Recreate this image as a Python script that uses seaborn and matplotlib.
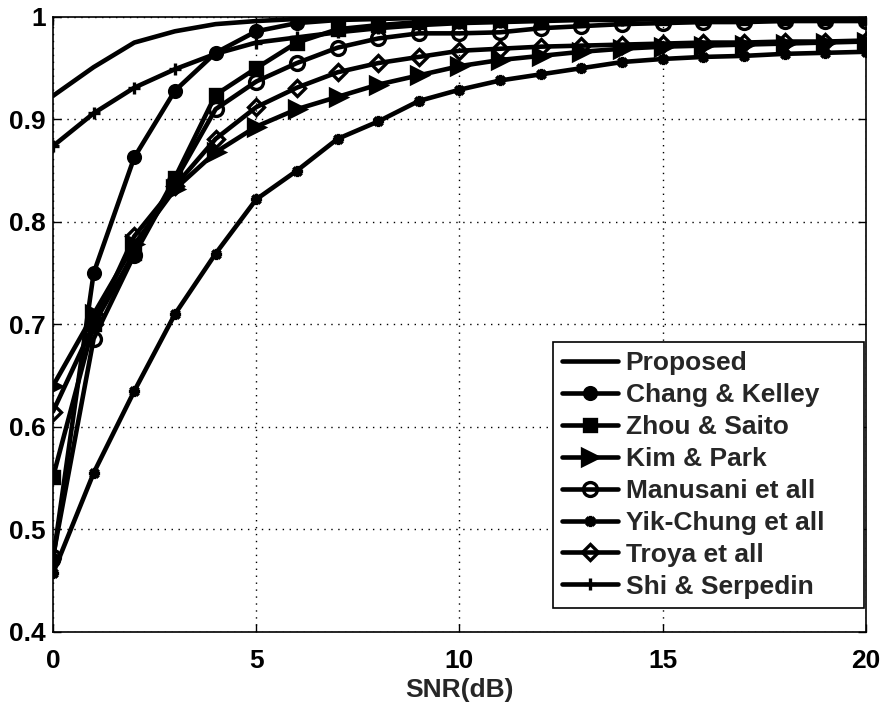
import numpy as np
import pandas as pd
import matplotlib
matplotlib.use("Agg")
import matplotlib.pyplot as plt
import seaborn as sns

snr = list(range(0, 21))

proposed = [0.923, 0.951, 0.975, 0.986, 0.993, 0.996, 0.998, 0.999, 0.999, 1.0, 1.0,
            1.0, 1.0, 1.0, 1.0, 1.0, 1.0, 1.0, 1.0, 1.0, 1.0]
chang = [0.470, 0.750, 0.863, 0.928, 0.965, 0.986, 0.994, 0.997, 0.998, 0.999, 0.999,
         0.999, 1.0, 1.0, 1.0, 1.0, 1.0, 1.0, 1.0, 1.0, 1.0]
zhou = [0.551, 0.700, 0.770, 0.843, 0.924, 0.950, 0.975, 0.988, 0.992, 0.995, 0.996,
        0.997, 0.998, 0.998, 0.999, 0.999, 0.999, 0.999, 0.999, 0.999, 0.999]
kim = [0.640, 0.710, 0.778, 0.832, 0.868, 0.893, 0.910, 0.922, 0.934, 0.943, 0.952,
       0.958, 0.962, 0.966, 0.969, 0.971, 0.972, 0.973, 0.974, 0.975, 0.976]
manusani = [0.473, 0.686, 0.768, 0.840, 0.910, 0.937, 0.955, 0.970, 0.979, 0.984, 0.984,
            0.985, 0.989, 0.991, 0.993, 0.994, 0.995, 0.995, 0.996, 0.996, 0.996]
yik = [0.457, 0.555, 0.635, 0.710, 0.769, 0.822, 0.850, 0.881, 0.898, 0.918, 0.929,
       0.938, 0.944, 0.950, 0.956, 0.959, 0.961, 0.962, 0.964, 0.965, 0.966]
troya = [0.615, 0.700, 0.786, 0.835, 0.881, 0.912, 0.931, 0.946, 0.955, 0.961, 0.967,
         0.969, 0.971, 0.972, 0.973, 0.974, 0.975, 0.975, 0.976, 0.976, 0.977]
shi = [0.874, 0.906, 0.931, 0.949, 0.964, 0.975, 0.980, 0.985, 0.989, 0.992, 0.994,
       0.995, 0.996, 0.997, 0.997, 0.998, 0.998, 0.998, 0.999, 0.999, 0.999]

labels = ["Proposed", "Chang & Kelley", "Zhou & Saito", "Kim & Park",
          "Manusani et all", "Yik-Chung et all", "Troya et all", "Shi & Serpedin"]
series = [proposed, chang, zhou, kim, manusani, yik, troya, shi]

# marker style per method: (marker, size, face colour)
styles = [
    (None, 0, "k"),
    ("o", 8.5, "k"),
    ("s", 8.5, "k"),
    (">", 11.5, "k"),
    ("o", 10, "none"),
    ((8, 2, 0), 8, "k"),
    ("D", 8.5, "none"),
    ("+", 9, "k"),
]

sns.set_style("ticks")
plt.rcParams["font.family"] = ["Liberation Sans", "DejaVu Sans"]
plt.rcParams["font.weight"] = "bold"
plt.rcParams["font.size"] = 19

fig = plt.figure(figsize=(8.86, 7.06), dpi=100)
ax = fig.add_axes([0.0598, 0.105, 0.9176, 0.871])

for name, vals, (mk, ms, fc) in zip(labels, series, styles):
    df = pd.DataFrame({"SNR": snr, "val": vals})
    kw = dict(color="k", linewidth=3.3, label=name)
    if mk is not None:
        kw.update(marker=mk, markersize=ms, markerfacecolor=fc,
                  markeredgecolor="k", markeredgewidth=2.4)
    sns.lineplot(data=df, x="SNR", y="val", ax=ax, **kw)

ax.set_xlim(0, 20)
ax.set_ylim(0.4, 1.0)
ax.set_xticks([0, 5, 10, 15, 20])
ax.set_yticks([0.4, 0.5, 0.6, 0.7, 0.8, 0.9, 1.0])
ax.set_yticklabels(["0.4", "0.5", "0.6", "0.7", "0.8", "0.9", "1"])
ax.set_xlabel("SNR(dB)", fontsize=19, fontweight="bold", labelpad=4)
ax.set_ylabel("")
ax.tick_params(direction="in", length=6, width=1, top=True, right=True,
               labelsize=19, colors="k")
ax.tick_params(axis="x", pad=12)
ax.tick_params(axis="y", pad=5)
for lab in ax.get_xticklabels() + ax.get_yticklabels():
    lab.set_fontweight("bold")
ax.grid(True, linestyle=(0, (1, 4)), color="k", linewidth=1.0)
for sp in ax.spines.values():
    sp.set_color("k")
    sp.set_linewidth(1.2)

leg = ax.legend(loc="lower left", bbox_to_anchor=(0.615, 0.039, 0.383, 0.45),
                mode="expand", borderaxespad=0,
                frameon=True, fancybox=False, edgecolor="k", framealpha=1,
                handlelength=2.1, handletextpad=0.3, labelspacing=0.3,
                borderpad=0.35, prop={"size": 19, "weight": "bold"})
leg.get_frame().set_linewidth(1.2)

fig.savefig("out.png", dpi=100)
